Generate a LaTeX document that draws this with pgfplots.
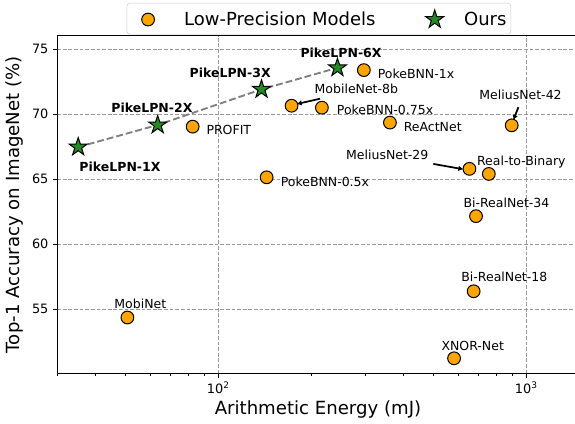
\documentclass[border=0pt]{standalone}
\usepackage{fontspec}
\setmainfont{DejaVu Sans}
\usepackage{pgfplots}
\pgfplotsset{compat=1.18}
\usetikzlibrary{arrows.meta}
\definecolor{lporange}{HTML}{FFA500}
\definecolor{ourgreen}{HTML}{228B22}
\definecolor{gridgray}{HTML}{9A9A9A}
\pgfdeclareplotmark{mstar}{%
  \pgfpathmoveto{\pgfpointpolar{90}{\pgfplotmarksize}}%
  \pgfpathlineto{\pgfpointpolar{126}{0.382*\pgfplotmarksize}}%
  \pgfpathlineto{\pgfpointpolar{162}{\pgfplotmarksize}}%
  \pgfpathlineto{\pgfpointpolar{198}{0.382*\pgfplotmarksize}}%
  \pgfpathlineto{\pgfpointpolar{234}{\pgfplotmarksize}}%
  \pgfpathlineto{\pgfpointpolar{270}{0.382*\pgfplotmarksize}}%
  \pgfpathlineto{\pgfpointpolar{306}{\pgfplotmarksize}}%
  \pgfpathlineto{\pgfpointpolar{342}{0.382*\pgfplotmarksize}}%
  \pgfpathlineto{\pgfpointpolar{18}{\pgfplotmarksize}}%
  \pgfpathlineto{\pgfpointpolar{54}{0.382*\pgfplotmarksize}}%
  \pgfpathclose
  \pgfusepathqfillstroke}
\pgfplotsset{
  lpimage/.style={legend image code/.code={\path (-11.2pt,0pt) (27.9pt,0pt); \draw[##1] plot coordinates {(0pt,0pt)};}},
  ourimage/.style={legend image code/.code={\path (-46.3pt,0pt) (24.1pt,0pt); \draw[##1] plot coordinates {(0pt,0pt)};}},
}
\newcommand{\annfont}{\fontsize{10pt}{12pt}\selectfont}
\tikzset{ann/.style={font=\annfont, inner sep=0pt, text height=7.3pt, text depth=0pt, anchor=center},
  bann/.style={ann, font=\annfont\bfseries},
  arr/.style={-{Latex[length=4pt,width=4.5pt]}, line width=1.4pt, black}}
\begin{document}
\begin{tikzpicture}
\begin{axis}[
  scale only axis, width=414.24pt, height=270.24pt,
  xmode=log, log basis x=10,
  xmin=30, xmax=1440, ymin=50.05, ymax=76.05,
  xtick={100,1000}, xticklabels={10\textsuperscript{2},10\textsuperscript{3}},
  minor xtick={30,40,50,60,70,80,90,200,300,400,500,600,700,800,900},
  ytick={55,60,65,70,75}, yticklabels={55,60,65,70,75},
  tick align=outside, tick pos=left,
  major tick length=3.5pt, minor tick length=2pt,
  every major tick/.style={black, line width=0.8pt},
  every minor tick/.style={black, line width=0.6pt},
  axis line style={draw=none},
  xmajorgrids, ymajorgrids,
  major grid style={gridgray, line width=0.6pt, dash pattern=on 3pt off 1.5pt},
  tick label style={font=\fontsize{10.3pt}{12pt}\selectfont},
  label style={font=\fontsize{14.5pt}{17pt}\selectfont},
  xlabel={Arithmetic Energy (mJ)},
  ylabel={Top-1 Accuracy on ImageNet (\%)},
  xlabel style={at={(axis description cs:0.5037,-0.108)}, anchor=center},
  ylabel style={at={(axis description cs:-0.0815,0.5)}, anchor=center},
  clip=false,
  legend columns=2,
  legend cell align=left,
  legend style={at={(0.5054,1)}, anchor=south, yshift=1pt,
    font=\fontsize{14.4pt}{17pt}\selectfont,
    draw=black!20, fill=white, rounded corners=2.5pt,
    inner xsep=5.6pt, inner ysep=5.5pt,
    column sep=0pt,
    nodes={inner sep=0pt},
    /tikz/every odd column/.append style={column sep=0pt},
    /tikz/every even column/.append style={column sep=0pt}},
]
\addplot[gray, line width=1.5pt, dash pattern=on 5.5pt off 2.4pt, forget plot]
  coordinates {(35.1,67.48) (63.6,69.18) (138.2,71.92) (243.8,73.58)};

\addplot[only marks, mark=*, mark size=5.1pt,
  mark options={fill=lporange, draw=black, line width=0.8pt}, lpimage]
  coordinates {
  (297,73.40)   % PokeBNN-1x
  (173,70.66)   % MobileNet-8b
  (217,70.51)   % PokeBNN-0.75x
  (361,69.36)   % ReActNet
  (82.6,69.05)  % PROFIT
  (897,69.15)   % MeliusNet-42
  (654,65.80)   % MeliusNet-29
  (756,65.41)   % Real-to-Binary
  (143.6,65.15) % PokeBNN-0.5x
  (687,62.16)   % Bi-RealNet-34
  (675,56.38)   % Bi-RealNet-18
  (583,51.22)   % XNOR-Net
  (50.7,54.36)  % MobiNet
  };
\addlegendentry{\hspace*{0.8pt}Low-Precision Models\hspace*{0.8pt}}

\addplot[only marks, mark=mstar, mark size=7.6pt,
  mark options={fill=ourgreen, draw=black, line width=0.8pt}, ourimage]
  coordinates {(35.1,67.48) (63.6,69.18) (138.2,71.92) (243.8,73.58)};
\addlegendentry{\hspace*{-0.8pt}Ours\hspace*{-2pt}}

\node[bann] at (axis cs:47.97,65.92) {PikeLPN-1X};
\node[bann] at (axis cs:60.9,70.46) {PikeLPN-2X};
\node[bann] at (axis cs:109.3,73.2) {PikeLPN-3X};
\node[bann] at (axis cs:250.4,74.69) {PikeLPN-6X};

\node[ann] at (axis cs:438.5,73.10) {PokeBNN-1x};
\node[ann] at (axis cs:280.8,71.95) {MobileNet-8b};
\node[ann] at (axis cs:348,70.33) {PokeBNN-0.75x};
\node[ann] at (axis cs:497,69.05) {ReActNet};
\node[ann] at (axis cs:108.2,68.79) {PROFIT};
\node[ann] at (axis cs:958.3,71.48) {MeliusNet-42};
\node[ann] at (axis cs:353.8,66.87) {MeliusNet-29};
\node[ann] at (axis cs:964,66.43) {Real-to-Binary};
\node[ann] at (axis cs:222,64.82) {PokeBNN-0.5x};
\node[ann] at (axis cs:862.5,63.2) {Bi-RealNet-34};
\node[ann] at (axis cs:849,57.46) {Bi-RealNet-18};
\node[ann] at (axis cs:670.3,52.18) {XNOR-Net};
\node[ann] at (axis cs:55.85,55.38) {MobiNet};

\draw[arr] (axis cs:214.1,71.2) -- (axis cs:179.8,70.79);
\draw[arr] (axis cs:942.8,70.54) -- (axis cs:908,69.56);
\draw[arr] (axis cs:499.4,66.18) -- (axis cs:625,65.77);

\draw[line width=0.8pt, line cap=rect] (rel axis cs:1,1) -- (rel axis cs:0,1) -- (rel axis cs:0,0) -- (rel axis cs:1,0);
\end{axis}
\pgfresetboundingbox
\path[use as bounding box] ([xshift=-45.76pt,yshift=-40.4pt]current axis.south west) rectangle ([yshift=28.56pt]current axis.north east);
\end{tikzpicture}
\end{document}
